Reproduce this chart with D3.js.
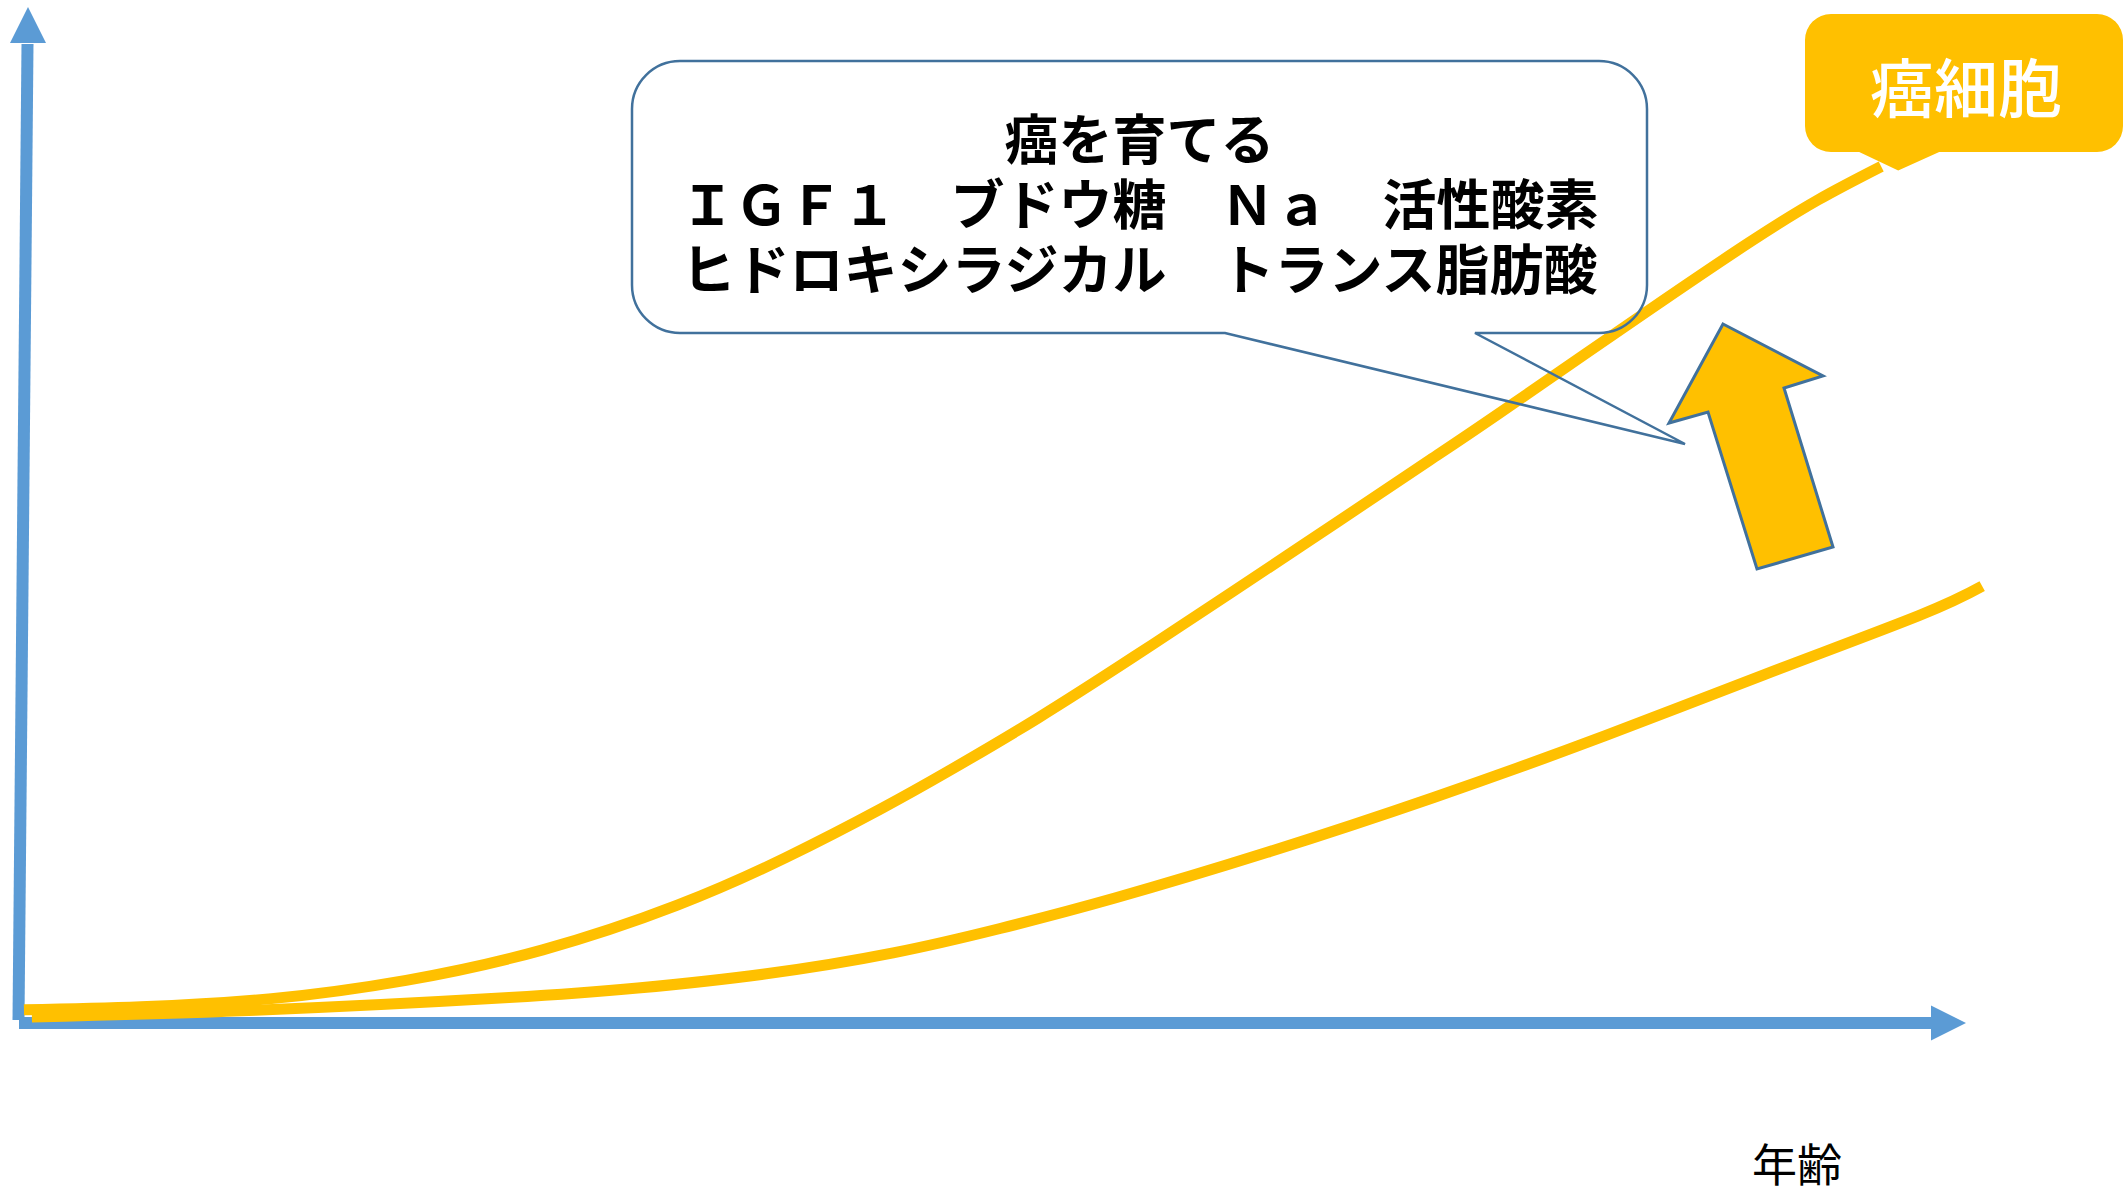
<!DOCTYPE html>
<html lang="ja">
<head>
<meta charset="utf-8">
<script src="https://cdn.jsdelivr.net/npm/d3@7"></script>
<style>
  html, body { margin: 0; padding: 0; background: #ffffff; }
  svg { display: block; }
  text { font-family: "Noto Sans CJK JP", "Noto Sans", sans-serif; }
</style>
</head>
<body>
<svg id="chart" width="2126" height="1194"></svg>
<script>
// Ages (0–100 scale) and relative growth of the two curves
const cancerAges   = [0.2, 6.1, 12.7, 19.5, 26.4, 33.2, 38.7, 43.5, 46.9, 51.4, 56.3, 61.2, 66.6, 71.2, 74.7, 82.3, 87.4, 90.8, 94.0];
const cancerGrowth = [1.3, 1.6, 2.4, 4.2, 7.2, 11.6, 16.3, 21.1, 24.8, 30.0, 36.1, 42.4, 49.4, 55.4, 60.0, 70.2, 76.9, 81.0, 84.3];
const normalAges   = [0.6, 11.9, 24.7, 31.2, 37.6, 44.1, 49.5, 55.3, 63.0, 71.4, 80.1, 88.1, 95.9, 99.1];
const normalGrowth = [0.6, 1.25, 2.5, 3.44, 4.82, 6.9, 9.3, 12.3, 16.8, 22.2, 28.3, 34.3, 40.1, 43.0];

// Text
const xAxisLabel = "年齢";
const cellLabel = "癌細胞";
const factorLines = [
  "癌を育てる",
  "ＩＧＦ１　ブドウ糖　Ｎａ　活性酸素",
  "ヒドロキシラジカル　トランス脂肪酸"
];

const AXIS = "#5B9BD5";
const YELLOW = "#FFC000";
const OUTLINE = "#41719C";

const svg = d3.select("#chart");

const x = d3.scaleLinear().domain([0, 100]).range([20, 2000]);
const y = d3.scaleLinear().domain([0, 100]).range([1023, 7]);

const toPoints = (ages, vals) => ages.map((a, i) => ({ age: a, v: vals[i] }));
const cancer = toPoints(cancerAges, cancerGrowth);
const normal = toPoints(normalAges, normalGrowth);

// ---- axes (arrows) ----
const axisG = svg.append("g");
const yTop = y.range()[1];
const xBase = y(0);
// vertical axis: slightly leaning shaft + arrow head
axisG.append("line")
  .attr("x1", x(0) - 1.5).attr("y1", xBase - 3)
  .attr("x2", x(0) + 7.5).attr("y2", yTop + 37)
  .attr("stroke", AXIS).attr("stroke-width", 12);
axisG.append("path")
  .attr("d", `M${x(0) + 8},${yTop} L${x(0) + 26},${yTop + 36} L${x(0) - 10},${yTop + 36} Z`)
  .attr("fill", AXIS);
// horizontal axis
const xEnd = 1966;
axisG.append("line")
  .attr("x1", x(0) - 1).attr("y1", xBase)
  .attr("x2", xEnd - 34).attr("y2", xBase)
  .attr("stroke", AXIS).attr("stroke-width", 12);
axisG.append("path")
  .attr("d", `M${xEnd},${xBase} L${xEnd - 35},${xBase - 17.5} L${xEnd - 35},${xBase + 17.5} Z`)
  .attr("fill", AXIS);

// ---- growth curves ----
const line = d3.line()
  .x(d => x(d.age))
  .y(d => y(d.v))
  .curve(d3.curveNatural);

svg.append("path").datum(normal)
  .attr("d", line)
  .attr("fill", "none").attr("stroke", YELLOW)
  .attr("stroke-width", 11).attr("stroke-linecap", "butt");

svg.append("path").datum(cancer)
  .attr("d", line)
  .attr("fill", "none").attr("stroke", YELLOW)
  .attr("stroke-width", 11).attr("stroke-linecap", "butt");

// ---- speech bubble listing the growth factors ----
function bubblePath(l, t, r, b, rad, tailA, tip, tailB) {
  return `M${l + rad},${t} H${r - rad} A${rad},${rad} 0 0 1 ${r},${t + rad}` +
    ` V${b - rad} A${rad},${rad} 0 0 1 ${r - rad},${b}` +
    ` H${tailB} L${tip[0]},${tip[1]} L${tailA},${b}` +
    ` H${l + rad} A${rad},${rad} 0 0 1 ${l},${b - rad}` +
    ` V${t + rad} A${rad},${rad} 0 0 1 ${l + rad},${t} Z`;
}

const box = { l: 632, t: 61, r: 1647, b: 333 };
svg.append("path")
  .attr("d", bubblePath(box.l, box.t, box.r, box.b, 48, 1225, [1685, 444], 1475))
  .attr("fill", "none").attr("stroke", OUTLINE).attr("stroke-width", 2.5)
  .attr("stroke-linejoin", "miter");

const cx = (box.l + box.r) / 2;
svg.append("text")
  .attr("text-anchor", "middle")
  .attr("font-size", 54)
  .attr("font-weight", 700)
  .attr("fill", "#000")
  .selectAll("tspan")
  .data(factorLines)
  .join("tspan")
  .attr("x", cx)
  .attr("y", (d, i) => 136 + i * 65)
  .attr("dominant-baseline", "central")
  .text(d => d);

// ---- upward arrow ----
const upArrow = [[1723, 324], [1823, 376], [1784, 388], [1833, 547], [1757, 569], [1708, 412], [1669, 423]];
svg.append("path")
  .attr("d", "M" + upArrow.map(p => p.join(",")).join(" L") + " Z")
  .attr("fill", YELLOW).attr("stroke", OUTLINE).attr("stroke-width", 3)
  .attr("stroke-linejoin", "miter");

// ---- label bubble at the end of the cancer curve ----
const endPt = cancer[cancer.length - 1];
const tipX = x(endPt.age) + 17, tipY = y(endPt.v) + 4;
const cb = { l: 1805, t: 14, r: 2123, b: 152 };
svg.append("path")
  .attr("d", bubblePath(cb.l, cb.t, cb.r, cb.b, 26, tipX - 39, [tipX, tipY], tipX + 41))
  .attr("fill", YELLOW);
svg.append("text")
  .attr("x", 1966).attr("y", 84)
  .attr("text-anchor", "middle")
  .attr("dominant-baseline", "central")
  .attr("font-size", 64)
  .attr("font-weight", 500)
  .attr("fill", "#fff")
  .text(cellLabel);

// ---- axis label ----
svg.append("text")
  .attr("x", 1797).attr("y", 1162)
  .attr("text-anchor", "middle")
  .attr("dominant-baseline", "central")
  .attr("font-size", 45)
  .attr("font-weight", 400)
  .attr("fill", "#000")
  .text(xAxisLabel);
</script>
</body>
</html>
